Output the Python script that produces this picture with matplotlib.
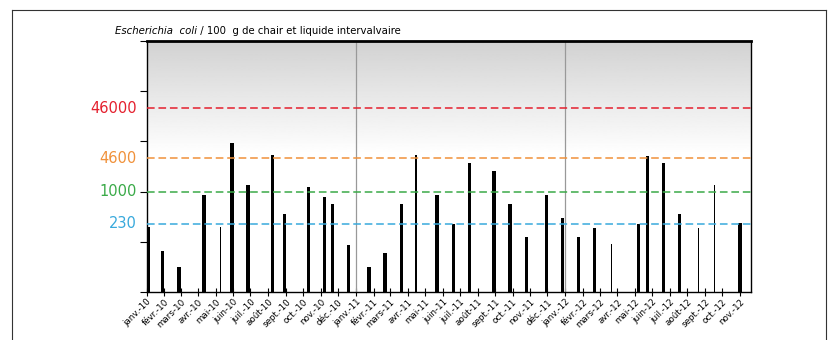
import numpy as np
import pandas as pd
import matplotlib
matplotlib.use("Agg")
import matplotlib.pyplot as plt
import matplotlib.dates as mdates
from matplotlib.lines import Line2D

plt.rcParams['font.family'] = ['DejaVu Sans']

# dates de prélèvement et résultats (E. coli / 100 g CLI)
dates = ['2010-01-03', '2010-01-29', '2010-02-26', '2010-04-11', '2010-05-10',
         '2010-05-30', '2010-06-27', '2010-08-08', '2010-08-29', '2010-10-10',
         '2010-11-07', '2010-11-21', '2010-12-19', '2011-01-24', '2011-02-21',
         '2011-03-21', '2011-04-16', '2011-05-22', '2011-06-20', '2011-07-18',
         '2011-08-30', '2011-09-27', '2011-10-25', '2011-11-29', '2011-12-27',
         '2012-01-24', '2012-02-21', '2012-03-22', '2012-05-08', '2012-05-23',
         '2012-06-20', '2012-07-18', '2012-08-20', '2012-09-17', '2012-11-01']
valeurs = [184, 56, 22, 860, 184, 9300, 1360, 5400, 344, 1220,
           770, 545, 78, 22, 49, 545, 5400, 860, 220, 3650,
           2610, 545, 115, 860, 286, 115, 181, 81, 220, 5200,
           3650, 344, 181, 1360, 228]
fins = [False, False, False, False, True, False, False, False, False, False,
        False, False, False, False, False, False, True, False, False, False,
        False, False, False, False, False, False, False, True, False, False,
        False, False, True, True, False]

seuils = [46000, 4600, 1000, 230]
seuil_couleurs = ['#e4202e', '#f0913a', '#3aaa48', '#38a9dc']

mois = ['janv.', 'févr.', 'mars', 'avr.', 'mai', 'juin',
        'juil.', 'août', 'sept.', 'oct.', 'nov.', 'déc.']
annees = ['10', '11', '12']
mois_ticks = pd.date_range('2010-01-01', '2012-11-01', freq='MS')
labels = [mois[d.month - 1] + '-' + annees[d.year - 2010] for d in mois_ticks]

fig = plt.figure(figsize=(8.34, 3.4), dpi=100)
ax = fig.add_axes([0.1759, 0.1412, 0.7246, 0.7382])

# fond dégradé gris -> blanc
grad = np.ones((256, 1))
t = np.linspace(0, 1, 256)
grad[:, 0] = np.clip((t - 0.55) / 0.45, 0, 1)
ax.imshow(grad, extent=[0, 1, 0, 1], transform=ax.transAxes, origin='lower',
          cmap='gray_r', vmin=0, vmax=5.6, aspect='auto', zorder=0)

x = mdates.date2num(pd.to_datetime(dates))
largeurs = np.where(fins, 2.6, 6.0)
ax.bar(x, valeurs, width=largeurs, color='black', bottom=10, zorder=3)

ax.set_yscale('log')
ax.set_ylim(10, 1e6)
ax.set_xlim(mdates.date2num(pd.Timestamp('2010-01-01')),
            mdates.date2num(pd.Timestamp('2012-11-20')))

for s, c in zip(seuils, seuil_couleurs):
    ax.axhline(s, color=c, linestyle=(0, (5, 2.5)), linewidth=1.1, zorder=4)
    ax.text(-0.016, s, str(s), transform=ax.get_yaxis_transform(),
            ha='right', va='center', color=c, fontsize=10.5)

for an in ['2011-01-01', '2012-01-01']:
    ax.axvline(mdates.date2num(pd.Timestamp(an)), color='#999999', lw=0.9, zorder=2)

ax.set_yticks([10, 100, 1000, 10000, 100000, 1e6])
ax.yaxis.set_minor_locator(matplotlib.ticker.NullLocator())
ax.set_yticklabels([])
ax.tick_params(axis='y', direction='out', length=5, width=0.8)

ax.set_xticks(mdates.date2num(mois_ticks))
ax.set_xticklabels(labels, rotation=45, ha='right', rotation_mode='anchor', fontsize=6.3)
ax.tick_params(axis='x', direction='inout', length=6, width=0.8, pad=1)

for sp in ax.spines.values():
    sp.set_linewidth(1.0)
ax.spines['top'].set_linewidth(2.0)

t1 = fig.text(0.138, 0.900, 'Escherichia  coli', fontsize=7.3, style='italic')
ax.annotate(' / 100  g de chair et liquide intervalvaire', xy=(1, 0), xycoords=t1,
            fontsize=7.3, va='bottom', ha='left', annotation_clip=False)

# cadre extérieur
fig.add_artist(Line2D([12 / 834, 12 / 834], [0, 1 - 10 / 340], color='#333333', lw=0.8))
fig.add_artist(Line2D([12 / 834, 826 / 834], [1 - 10 / 340, 1 - 10 / 340], color='#333333', lw=0.8))
fig.add_artist(Line2D([826 / 834, 826 / 834], [0, 1 - 10 / 340], color='#333333', lw=0.8))

fig.savefig('out.png', dpi=100)
